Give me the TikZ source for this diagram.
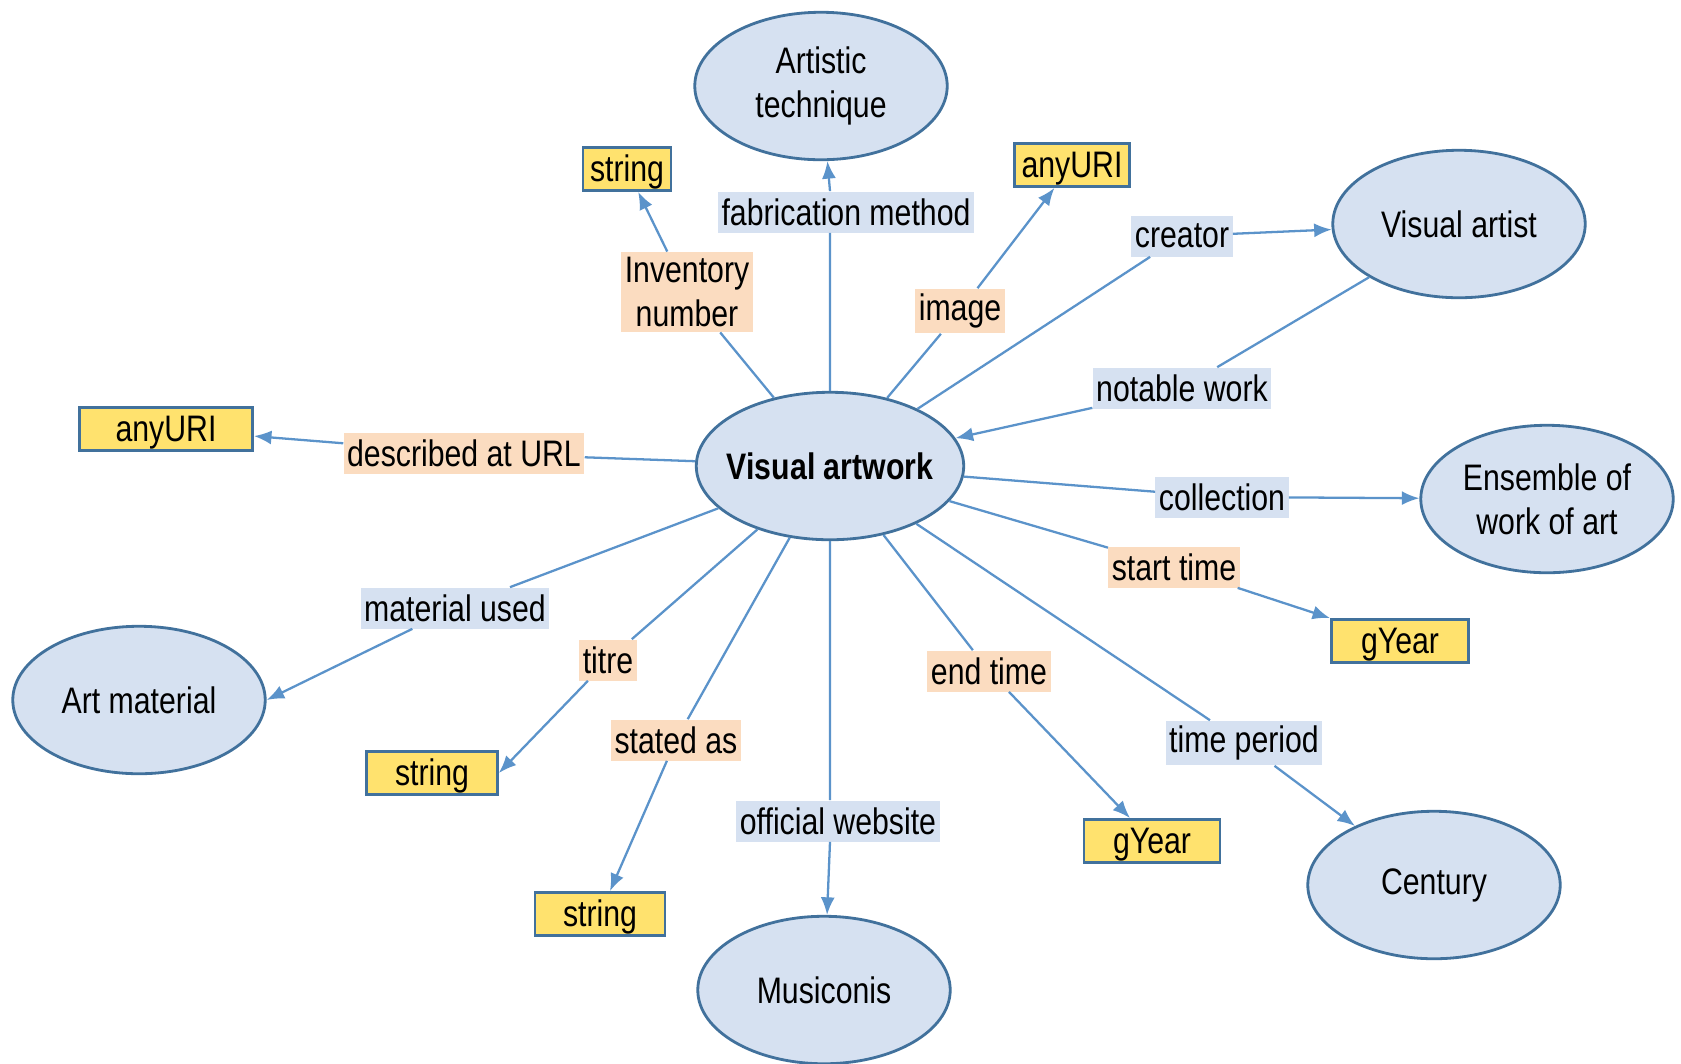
\documentclass[tikz,border=0pt]{standalone}
\usepackage{fontspec}
\setmainfont[FakeStretch=0.82]{Liberation Sans}
\usetikzlibrary{shapes.geometric,arrows.meta}
\definecolor{classfill}{HTML}{D6E1F1}
\definecolor{classline}{HTML}{41719C}
\definecolor{linkblue}{HTML}{5B93CA}
\definecolor{propblue}{HTML}{D6E1F1}
\definecolor{proporange}{HTML}{FBDCC0}
\definecolor{lityellow}{HTML}{FFE26E}

\begin{document}
\begin{tikzpicture}[x=0.02cm,y=-0.02cm,>={Latex[length=10pt,width=8pt]},
	every node/.style={font=\fontsize{21}{25}\selectfont},
	class/.style={ellipse,draw=classline,fill=classfill,line width=1.6pt,minimum width=5.05cm,minimum height=2.95cm,inner sep=0pt,align=center},
	lit/.style={draw=classline,fill=lityellow,line width=1.6pt,minimum height=0.86cm,inner sep=1pt,text height=17pt,text depth=3pt},
	objprop/.style={fill=propblue,inner xsep=2pt,inner ysep=3pt,minimum height=0.82cm,align=center},
	dataprop/.style={fill=proporange,inner xsep=2pt,inner ysep=3pt,minimum height=0.82cm,align=center},
	link/.style={linkblue,line width=1.3pt}]
	\useasboundingbox (0,0) rectangle (1681,1063);

	% classes
	\node[class,minimum width=5.35cm,inner xsep=-14pt,font=\fontsize{21}{25}\selectfont\bfseries] (artwork) at (830,466) {Visual artwork};
	\node[class] (technique) at (821,86) {Artistic\\technique};
	\node[class] (artist) at (1459,224) {Visual artist};
	\node[class] (ensemble) at (1547,499) {Ensemble of\\work of art};
	\node[class] (century) at (1434,885) {Century};
	\node[class] (musiconis) at (824,990) {Musiconis};
	\node[class] (material) at (139,700) {Art material};

	% literals
	\node[lit,minimum width=1.76cm] (strinv) at (627,169) {string};
	\node[lit,minimum width=2.3cm] (uriimg) at (1072,165) {anyURI};
	\node[lit,minimum width=3.46cm] (uridesc) at (166,429) {anyURI};
	\node[lit,minimum width=2.74cm] (yearstart) at (1400,641) {gYear};
	\node[lit,minimum width=2.72cm] (yearend) at (1152,841) {gYear};
	\node[lit,minimum width=2.62cm] (strtitre) at (432,773) {string};
	\node[lit,minimum width=2.6cm] (strstated) at (600,914) {string};

	% properties
	\node[objprop] (fab) at (846,212) {fabrication method};
	\node[dataprop] (inv) at (687,292) {Inventory\\number};
	\node[dataprop] (img) at (960,311) {image};
	\node[objprop] (creator) at (1182,236) {creator};
	\node[objprop] (notable) at (1182,388) {notable work};
	\node[dataprop] (desc) at (464,453) {described at URL};
	\node[objprop] (coll) at (1222,497) {collection};
	\node[dataprop] (start) at (1174,567) {start time};
	\node[objprop] (matused) at (455,608) {material used};
	\node[dataprop] (titre) at (608,660) {titre};
	\node[dataprop] (endt) at (989,671) {end time};
	\node[dataprop] (stated) at (676,740) {stated as};
	\node[objprop] (period) at (1244,743) {time period};
	\node[objprop] (website) at (838,821) {official website};

	% links
	\draw[link,->] (artwork) -- (artwork |- fab.south) (artwork |- fab.north) -- (technique);
	\draw[link,->] (artwork) -- (inv) -- (strinv);
	\draw[link,->] (artwork) -- (img) -- (uriimg);
	\draw[link,->] (artwork) -- (creator) -- (artist);
	\draw[link,->] (artist) -- (notable) -- (artwork);
	\draw[link,->] (artwork) -- (desc) -- (uridesc);
	\draw[link,->] (artwork) -- (coll) -- (ensemble);
	\draw[link,->] (artwork) -- (start) -- (yearstart);
	\draw[link,->] (artwork) -- (matused) -- (material.east);
	\draw[link,->] (artwork) -- (titre) -- (strtitre.east);
	\draw[link,->] (artwork) -- (stated) -- (strstated);
	\draw[link,->] (artwork) -- (artwork |- website.north) (artwork |- website.south) -- (musiconis);
	\draw[link,->] (artwork) -- (endt) -- (yearend);
	\draw[link,->] (artwork) -- (period) -- (century);
\end{tikzpicture}
\end{document}
